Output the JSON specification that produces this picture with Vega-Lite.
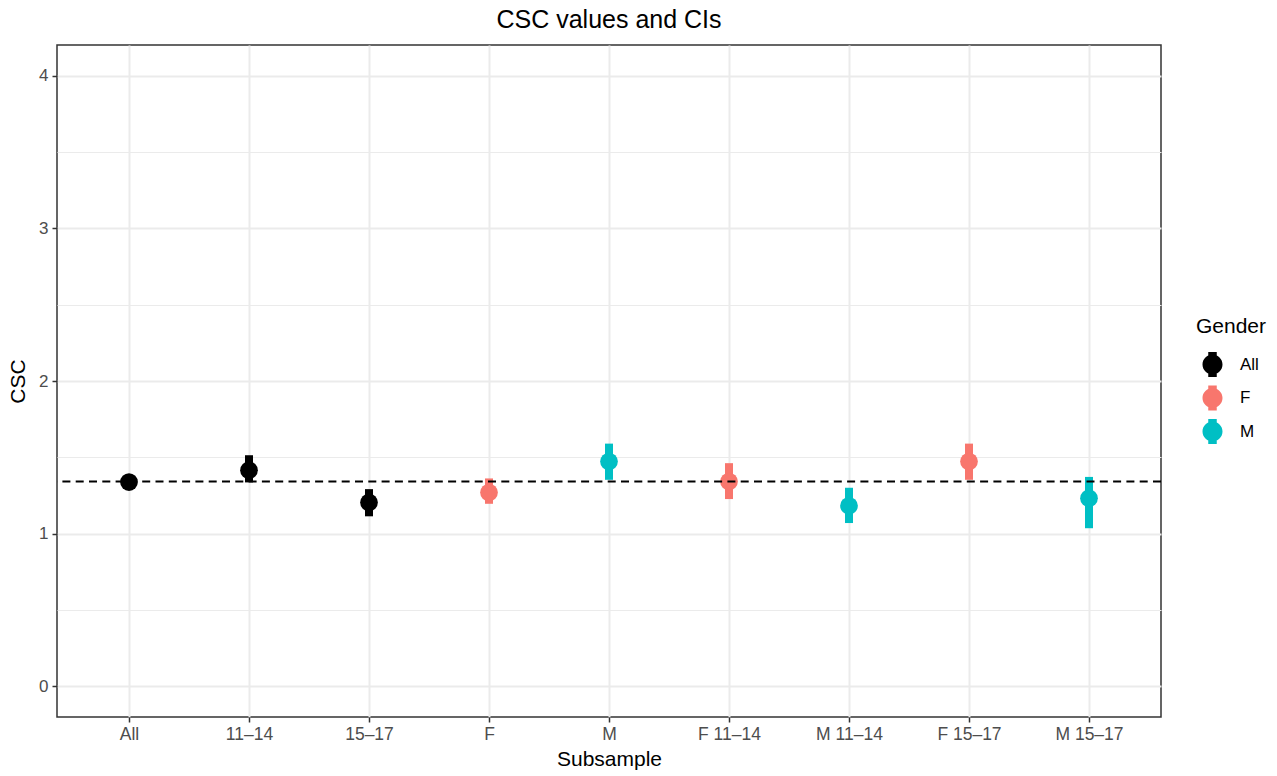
{
  "$schema": "https://vega.github.io/schema/vega-lite/v6.json",
  "width": 1104,
  "height": 672,
  "autosize": {"type": "none"},
  "padding": {"left": 57, "top": 45, "right": 116, "bottom": 59},
  "title": {"text": "CSC values and CIs", "fontSize": 25, "fontWeight": "normal", "color": "black", "anchor": "middle", "offset": 12},
  "datasets": {
    "est": [
      {"Subsample": "All", "Gender": "All", "CSC": 1.338, "lower": 1.30, "upper": 1.38},
      {"Subsample": "11–14", "Gender": "All", "CSC": 1.416, "lower": 1.336, "upper": 1.514},
      {"Subsample": "15–17", "Gender": "All", "CSC": 1.205, "lower": 1.114, "upper": 1.292},
      {"Subsample": "F", "Gender": "F", "CSC": 1.270, "lower": 1.196, "upper": 1.362},
      {"Subsample": "M", "Gender": "M", "CSC": 1.473, "lower": 1.353, "upper": 1.590},
      {"Subsample": "F 11–14", "Gender": "F", "CSC": 1.342, "lower": 1.227, "upper": 1.462},
      {"Subsample": "M 11–14", "Gender": "M", "CSC": 1.183, "lower": 1.070, "upper": 1.301},
      {"Subsample": "F 15–17", "Gender": "F", "CSC": 1.473, "lower": 1.353, "upper": 1.590},
      {"Subsample": "M 15–17", "Gender": "M", "CSC": 1.233, "lower": 1.036, "upper": 1.372}
    ],
    "ref": [{"overall": 1.342}]
  },
  "layer": [
    {
      "data": {"name": "est"},
      "mark": {"type": "rule", "strokeWidth": 8, "strokeCap": "butt"},
      "encoding": {
        "x": {
          "field": "Subsample", "type": "nominal",
          "sort": ["All", "11–14", "15–17", "F", "M", "F 11–14", "M 11–14", "F 15–17", "M 15–17"]
        },
        "y": {"field": "lower", "type": "quantitative"},
        "y2": {"field": "upper"},
        "color": {"field": "Gender", "type": "nominal"}
      }
    },
    {
      "data": {"name": "est"},
      "mark": {"type": "point", "shape": "circle", "filled": true, "opacity": 1, "size": 314},
      "encoding": {
        "x": {
          "field": "Subsample", "type": "nominal",
          "sort": ["All", "11–14", "15–17", "F", "M", "F 11–14", "M 11–14", "F 15–17", "M 15–17"],
          "scale": {"type": "point", "padding": 0.6},
          "axis": {
            "title": "Subsample", "grid": true, "gridColor": "#EBEBEB", "gridWidth": 2,
            "domain": false, "tickSize": 5, "tickColor": "#333333", "tickWidth": 1.5,
            "labelColor": "#4D4D4D", "labelFontSize": 17.5, "labelPadding": 12, "labelAngle": 0, "labelAlign": "center",
            "titleFontSize": 21, "titleColor": "black", "titleFontWeight": "normal", "titlePadding": 6
          }
        },
        "y": {
          "field": "CSC", "type": "quantitative",
          "scale": {"domain": [-0.2, 4.2], "nice": false, "zero": false},
          "axis": {
            "title": "CSC", "values": [0, 0.5, 1, 1.5, 2, 2.5, 3, 3.5, 4],
            "labelExpr": "datum.value % 1 === 0 ? format(datum.value, 'd') : ''",
            "grid": true, "gridColor": "#EBEBEB",
            "gridWidth": {"condition": {"test": "datum.value % 1 !== 0", "value": 1.2}, "value": 2},
            "tickOpacity": {"condition": {"test": "datum.value % 1 !== 0", "value": 0}, "value": 1},
            "domain": false, "tickSize": 5, "tickColor": "#333333", "tickWidth": 1.5,
            "labelColor": "#4D4D4D", "labelFontSize": 17, "labelPadding": 4,
            "titleFontSize": 21, "titleColor": "black", "titleFontWeight": "normal", "titlePadding": 10
          }
        },
        "color": {
          "field": "Gender", "type": "nominal",
          "scale": {"domain": ["All", "F", "M"], "range": ["#000000", "#F8766D", "#00BFC4"]},
          "legend": {
            "orient": "none", "legendX": 1139, "legendY": 271,
            "title": "Gender", "titleFontSize": 21, "titleColor": "black", "titleFontWeight": "normal", "titlePadding": 15,
            "labelFontSize": 17, "labelColor": "black", "labelOffset": 15,
            "symbolType": "M-0.34,-1V1H0.34V-1Z M-0.8,0A0.8,0.8 0 1,0 0.8,0A0.8,0.8 0 1,0 -0.8,0Z",
            "symbolSize": 625, "symbolStrokeWidth": 0, "symbolOpacity": 1, "symbolOffset": 4,
            "rowPadding": 8.5
          }
        }
      }
    },
    {
      "data": {"name": "ref"},
      "mark": {"type": "rule", "color": "black", "strokeWidth": 2, "strokeDash": [8, 5.3]},
      "encoding": {
        "y": {"field": "overall", "type": "quantitative"}
      }
    }
  ],
  "config": {
    "font": "Liberation Sans",
    "view": {"stroke": "#333333", "strokeWidth": 1.5},
    "background": "white"
  }
}
